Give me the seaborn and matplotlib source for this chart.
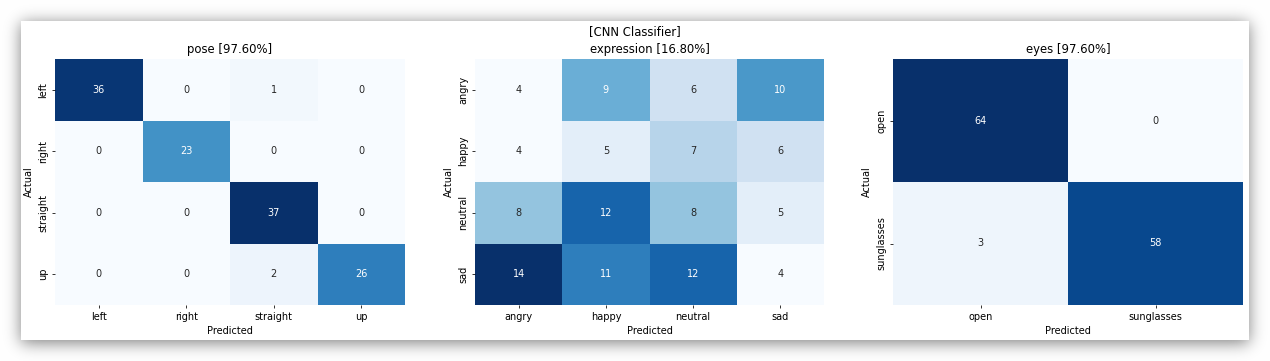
import numpy as np
import pandas as pd
import seaborn as sns
import matplotlib.pyplot as plt

pose_labels = ['left', 'right', 'straight', 'up']
pose_cm = [[36, 0, 1, 0],
           [0, 23, 0, 0],
           [0, 0, 37, 0],
           [0, 0, 2, 26]]

expr_labels = ['angry', 'happy', 'neutral', 'sad']
expr_cm = [[4, 9, 6, 10],
           [4, 5, 7, 6],
           [8, 12, 8, 5],
           [14, 11, 12, 4]]

eyes_labels = ['open', 'sunglasses']
eyes_cm = [[64, 0],
           [3, 58]]

titles = ['pose [97.60%]', 'expression [16.80%]', 'eyes [97.60%]']

W, H = 1270, 361
fig = plt.figure(figsize=(W / 70, H / 70), dpi=70)

# soft drop shadow like the screenshot: blurred rectangle behind a white panel
x0, y0, x1, y1 = 21, 21, 1249, 340
mask = np.zeros((H, W))
mask[y0 + 2:y1 + 3, x0:x1] = 1.0
k = np.exp(-0.5 * (np.arange(-24, 25) / 8.0) ** 2)
k /= k.sum()
blur = np.apply_along_axis(lambda r: np.convolve(r, k, mode='same'), 1, mask)
blur = np.apply_along_axis(lambda c: np.convolve(c, k, mode='same'), 0, blur)
shade = 1 - 0.5 * blur
shade[y0:y1, x0:x1] = 1.0
fig.figimage(np.dstack([shade] * 3), 0, 0, origin='upper', zorder=-5)

panels = [(pose_cm, pose_labels, 55, 405),
          (expr_cm, expr_labels, 475, 824),
          (eyes_cm, eyes_labels, 893, 1243)]
top, bottom = 59, 305

for (cm, labels, left, right), title in zip(panels, titles):
    ax = fig.add_axes([left / W, 1 - bottom / H, (right - left) / W, (bottom - top) / H])
    df = pd.DataFrame(cm, index=labels, columns=labels)
    sns.heatmap(df, annot=True, fmt='d', cmap='Blues', cbar=False, ax=ax)
    ax.set_title(title)
    ax.set_xlabel('Predicted')
    ax.set_ylabel('Actual')

fig.suptitle('[CNN Classifier]', y=1 - 32 / H, va='center')
fig.savefig('out.png', dpi=70, facecolor='white')
